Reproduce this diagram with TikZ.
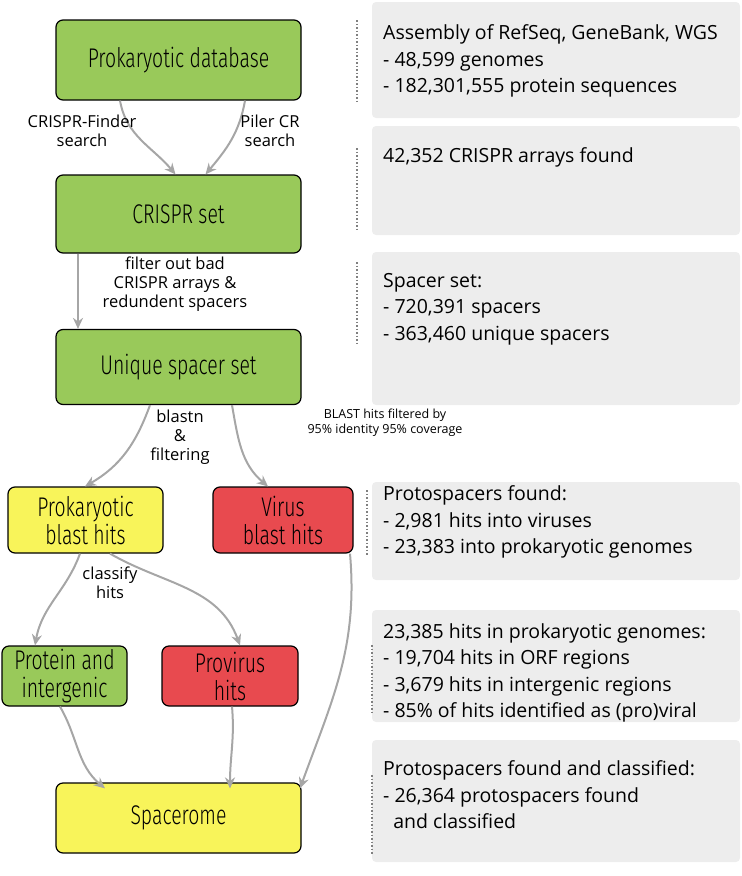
\documentclass[tikz,border=0pt]{standalone}
\usepackage{fontspec}
\setmainfont{Open Sans}
\newfontfamily\boxfont[FakeStretch=0.72]{Fira Sans Light}
\usetikzlibrary{arrows.meta}
\definecolor{gbox}{HTML}{99C95A}
\definecolor{ybox}{HTML}{F8F45A}
\definecolor{rbox}{HTML}{E84A4F}
\definecolor{panel}{HTML}{EDEDED}
\definecolor{arr}{HTML}{A6A6A6}
\tikzset{
 bx/.style={draw=black,line width=1.2pt,rounded corners=7pt,inner sep=0pt,font=\boxfont\fontsize{27}{28}\selectfont,align=center},
 ptxt/.style={anchor=west,font=\fontsize{19.5}{26.5}\selectfont,align=left,inner sep=0pt},
 ar/.style={draw=arr,line width=2pt,-{Stealth[length=11pt,width=10pt]}},
 lbl/.style={font=\fontsize{16.5}{19}\selectfont,align=center,inner sep=0pt},
 dl/.style={draw=gray,line width=1.5pt,dotted}
}
\begin{document}
\begin{tikzpicture}[x=1pt,y=-1pt]
\useasboundingbox (0,0) rectangle (742,876);
% panels
\fill[panel,rounded corners=4pt] (372,2) rectangle (740,118);
\fill[panel,rounded corners=4pt] (372,126) rectangle (740,235);
\fill[panel,rounded corners=4pt] (372,252) rectangle (740,405);
\fill[panel,rounded corners=4pt] (372,482) rectangle (740,580);
\fill[panel,rounded corners=4pt] (372,610) rectangle (740,722);
\fill[panel,rounded corners=4pt] (372,740) rectangle (740,862);
\node[ptxt] (t1) at (383,61) {Assembly of RefSeq, GeneBank, WGS\\ - 48,599 genomes\\ - 182,301,555 protein sequences};
\node[ptxt] (t2) at (383,157) {42,352 CRISPR arrays found};
\node[ptxt] (t3) at (383,309) {Spacer set:\\ - 720,391 spacers\\ - 363,460 unique spacers};
\node[ptxt] (t4) at (383,522) {Protospacers found:\\ - 2,981 hits into viruses\\ - 23,383 into prokaryotic genomes};
\node[ptxt] (t5) at (383,673) {23,385 hits in prokaryotic genomes:\\ - 19,704 hits in ORF regions\\ - 3,679 hits in intergenic regions\\ - 85\% of hits identified as (pro)viral};
\node[ptxt] (t6) at (383,795) {Protospacers found and classified:\\ - 26,364 protospacers found\\ \ \ and classified};
% dotted lines
\draw[dl] (357,20) -- (357,102);
\draw[dl] (357,148) -- (357,232);
\draw[dl] (357,262) -- (357,343);
\draw[dl] (367,490) -- (367,555);
\draw[dl] (372,645) -- (372,715);
\draw[dl] (372,775) -- (372,855);
% boxes
\node[bx,fill=gbox,minimum width=245pt,minimum height=80pt] (db) at (178.5,60) {Prokaryotic database};
\node[bx,fill=gbox,minimum width=245pt,minimum height=78pt] (cr) at (178.5,214) {CRISPR set};
\node[bx,fill=gbox,minimum width=245pt,minimum height=75pt] (us) at (178.5,367) {Unique spacer set};
\node[bx,fill=ybox,minimum width=155pt,minimum height=66pt] (pb) at (85.5,520) {Prokaryotic\\blast hits};
\node[bx,fill=rbox,minimum width=140pt,minimum height=66pt] (vb) at (283,520) {Virus\\blast hits};
\node[bx,fill=gbox,minimum width=125pt,minimum height=60pt] (pi) at (64.5,676) {Protein and\\intergenic};
\node[bx,fill=rbox,minimum width=136pt,minimum height=60pt] (ph) at (230,676) {Provirus\\hits};
\node[bx,fill=ybox,minimum width=245pt,minimum height=70pt] (sp) at (178.5,818) {Spacerome};
% arrows
\draw[ar] (db.south -| 120,0) to[out=-80,in=130] ([xshift=-3pt]cr.north);
\draw[ar] (db.south -| 245,0) to[out=-100,in=50] ([xshift=27pt]cr.north);
\node[lbl] (l1) at (82,131) {CRISPR-Finder\\search};
\node[lbl] (l2) at (270,131) {Piler CR\\search};
\draw[ar] (cr.south -| 78,0) -- (us.north -| 78,0);
\node[lbl] (l3) at (175,284) {filter out bad\\CRISPR arrays \&\\redundent spacers};
\draw[ar] (us.south -| 150,0) to[out=-110,in=30] (pb.north -| 85,0);
\draw[ar] (us.south -| 232,0) to[out=-80,in=140] (vb.north -| 268,0);
\node[lbl] (l4) at (180,437) {blastn\\\&\\filtering};
\node[lbl,font=\fontsize{12.5}{15}\selectfont] (l5) at (385,423) {BLAST hits filtered by\\95\% identity 95\% coverage};
\draw[ar] (pb.south -| 80,0) to[out=-110,in=80] (pi.north -| 35,0);
\draw[ar] (pb.south -| 110,0) to[out=-30,in=110] (ph.north -| 240,0);
\node[lbl] (l6) at (110,583) {classify\\hits};
\draw[ar] (vb.south -| 350,0) to[out=-85,in=70] ([yshift=-6pt]sp.north -| 300,0);
\draw[ar] (pi.south -| 60,0) to[out=-60,in=140] ([yshift=-6pt]sp.north -| 105,0);
\draw[ar] (ph.south -| 232,0) to[out=-85,in=90] ([yshift=-6pt]sp.north -| 230,0);
\end{tikzpicture}
\end{document}
